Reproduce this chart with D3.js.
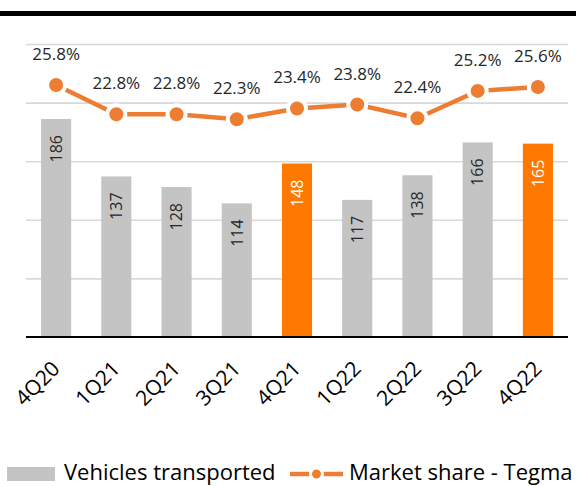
<!DOCTYPE html>
<html>
<head>
<meta charset="utf-8">
<script src="https://cdn.jsdelivr.net/npm/d3@7"></script>
<style>
  body { margin: 0; background: #fff; }
  svg { display: block; font-family: "Open Sans", sans-serif; }
</style>
</head>
<body>
<div id="chart"></div>
<script>
const quarters = ["4Q20", "1Q21", "2Q21", "3Q21", "4Q21", "1Q22", "2Q22", "3Q22", "4Q22"];
const vehicles = [186, 137, 128, 114, 148, 117, 138, 166, 165];
const marketShare = [25.8, 22.8, 22.8, 22.3, 23.4, 23.8, 22.4, 25.2, 25.6];
const highlighted = ["4Q21", "4Q22"];
const vehicleTicks = [0, 50, 100, 150, 200, 250];
const shareDomain = [0, 30];
const legendLabels = ["Vehicles transported", "Market share - Tegma"];

const width = 580, height = 486;
const plot = { left: 26, right: 568, top: 44, bottom: 337 };

const svg = d3.select("#chart")
  .append("svg")
  .attr("width", width)
  .attr("height", height);

// top rule
svg.append("rect")
  .attr("x", 0).attr("y", 11)
  .attr("width", 576).attr("height", 5)
  .attr("fill", "#000");

const x = d3.scaleBand()
  .domain(quarters)
  .range([plot.left, plot.right])
  .paddingInner(0.5)
  .paddingOuter(0.25);

const y = d3.scaleLinear()
  .domain(d3.extent(vehicleTicks))
  .range([plot.bottom, plot.top]);

const y2 = d3.scaleLinear()
  .domain(shareDomain)
  .range([plot.bottom, plot.top]);

// gridlines
const grid = svg.append("g")
  .attr("transform", `translate(${plot.left},0)`)
  .call(d3.axisLeft(y)
    .tickValues(vehicleTicks.filter(d => d > 0))
    .tickSize(-(plot.right - plot.left))
    .tickFormat(""));
grid.select(".domain").remove();
grid.selectAll("line").attr("stroke", "#d9d9d9").attr("stroke-width", 1.6);

// bars
const data = quarters.map((q, i) => ({ q, v: vehicles[i], s: marketShare[i] }));

svg.append("g")
  .selectAll("rect")
  .data(data)
  .join("rect")
  .attr("x", d => x(d.q))
  .attr("y", d => y(d.v))
  .attr("width", x.bandwidth())
  .attr("height", d => y(0) - y(d.v))
  .attr("fill", d => highlighted.includes(d.q) ? "#ff7900" : "#c4c4c4");

// bar labels
svg.append("g")
  .selectAll("text")
  .data(data)
  .join("text")
  .attr("transform", d => `translate(${x(d.q) + x.bandwidth() / 2},${y(d.v) + 16}) rotate(-90)`)
  .attr("text-anchor", "end")
  .attr("dy", "0.36em")
  .attr("font-size", 16)
  .attr("fill", d => highlighted.includes(d.q) ? "#fff" : "#262626")
  .text(d => d.v);

// x axis baseline
const xAxis = svg.append("g")
  .attr("transform", `translate(0,${plot.bottom})`)
  .call(d3.axisBottom(x).tickSize(0).tickPadding(0));
xAxis.select(".domain")
  .attr("d", `M${plot.left},0H${plot.right}`)
  .attr("stroke", "#000")
  .attr("stroke-width", 2.2);
xAxis.selectAll("text")
  .attr("font-family", "Open Sans, sans-serif")
  .attr("font-size", 21)
  .attr("fill", "#000")
  .attr("text-anchor", "end")
  .attr("dy", null)
  .attr("y", null)
  .attr("transform", "translate(5,33) rotate(-45)");

// market share line
const cx = d => x(d.q) + x.bandwidth() / 2;
const line = d3.line()
  .x(cx)
  .y(d => y2(d.s));

svg.append("path")
  .datum(data)
  .attr("fill", "none")
  .attr("stroke", "#ed7d31")
  .attr("stroke-width", 4.5)
  .attr("d", line);

svg.append("g")
  .selectAll("circle")
  .data(data)
  .join("circle")
  .attr("cx", cx)
  .attr("cy", d => y2(d.s))
  .attr("r", 9)
  .attr("fill", "#ed7d31")
  .attr("stroke", "#fff")
  .attr("stroke-width", 4);

svg.append("g")
  .selectAll("text")
  .data(data)
  .join("text")
  .attr("x", cx)
  .attr("y", d => y2(d.s) - 25)
  .attr("text-anchor", "middle")
  .attr("font-size", 17)
  .attr("fill", "#262626")
  .text(d => d.s.toFixed(1) + "%");

// legend
const legend = svg.append("g");
legend.append("rect")
  .attr("x", 7).attr("y", 467)
  .attr("width", 48).attr("height", 14)
  .attr("fill", "#c4c4c4");
legend.append("text")
  .attr("x", 64).attr("y", 480)
  .attr("font-size", 22)
  .attr("fill", "#000")
  .text(legendLabels[0]);

legend.append("line")
  .attr("x1", 290).attr("x2", 343)
  .attr("y1", 474).attr("y2", 474)
  .attr("stroke", "#ed7d31")
  .attr("stroke-width", 4.5);
legend.append("circle")
  .attr("cx", 316.5).attr("cy", 474)
  .attr("r", 6)
  .attr("fill", "#ed7d31")
  .attr("stroke", "#fff")
  .attr("stroke-width", 3);
legend.append("text")
  .attr("x", 349).attr("y", 480)
  .attr("font-size", 22)
  .attr("fill", "#000")
  .text(legendLabels[1]);
</script>
</body>
</html>
